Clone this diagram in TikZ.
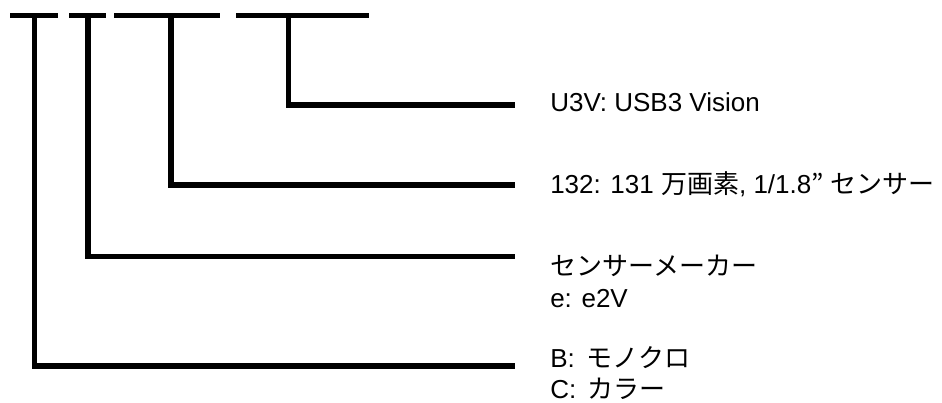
\documentclass[tikz,border=0pt]{standalone}
\usepackage{fontspec}
\setmainfont{Liberation Sans}
\newfontfamily\cjk{Noto Sans CJK JP}
\tikzset{
	nhanh/.style={line width=4.2pt,line join=miter},
	chu/.style={anchor=base west,inner sep=0pt,font=\fontsize{19.5}{24}\selectfont}
}
\begin{document}
\begin{tikzpicture}[x=0.75pt,y=-0.75pt]% 1 đơn vị = 1 pixel
	\useasboundingbox (0,0) rectangle (942,403);
	\def\r{515}
	\def\tx{550}
	\foreach \u/\v in {10/58,69/106,114/220,236/369}
		\draw[nhanh] (\u,15.5) -- (\v,15.5);
	\foreach \n/\x/\y in {1/34.5/366,2/88/256.5,3/171/185,4/288.5/105}{
		\coordinate (k\n) at (\x,15.5);
		\coordinate (m\n) at (\r,\y);
		\draw[nhanh] (k\n) |- (m\n);
	}
	\node[chu] (u3v) at (\tx,112) {U3V: USB3 Vision};
	\node[chu] (pix) at (\tx,193) {132: 131 {\cjk 万画素}, 1/1.8{\cjk ”} {\cjk センサー}};
	\node[chu] (maker) at (\tx,275) {\cjk センサーメーカー};
	\node[chu] (makerE) at (\tx,307) {e: e2V};
	\node[chu] (mono) at (\tx,367) {B:\, {\cjk モノクロ}};
	\node[chu] (color) at (\tx,398.5) {C:\, {\cjk カラー}};
\end{tikzpicture}
\end{document}
